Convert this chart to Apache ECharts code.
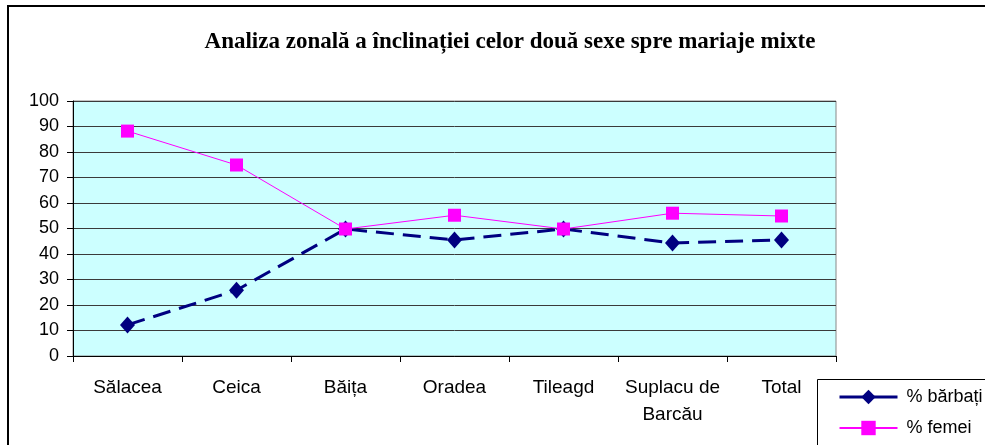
<!DOCTYPE html>
<html>
<head>
<meta charset="utf-8">
<script src="https://cdn.jsdelivr.net/npm/echarts@6/dist/echarts.min.js"></script>
<style>
  html, body { margin: 0; padding: 0; background: #fff; }
  #chart { width: 985px; height: 445px; }
</style>
</head>
<body>
<div id="chart"></div>
<script>
// zones on the x axis
let zones = ['Sălacea', 'Ceica', 'Băița', 'Oradea', 'Tileagd', 'Suplacu de\nBarcău', 'Total'];
// percentages
let barbati = [12.2, 25.8, 49.8, 45.5, 49.8, 44.3, 45.5];
let femei = [88.2, 74.9, 49.8, 55.2, 49.8, 56.0, 54.9];

let chart = echarts.init(document.getElementById('chart'));

let option = {
    animation: false,
    backgroundColor: '#fff',
    title: {
        text: 'Analiza zonală a înclinației celor două sexe spre mariaje mixte',
        left: 505,
        textAlign: 'center',
        top: 26,
        textStyle: {
            fontFamily: 'Liberation Serif',
            fontWeight: 'bold',
            fontSize: 23,
            color: '#000'
        }
    },
    graphic: [
        {
            // outer chart frame, runs past the picture edges
            type: 'rect',
            shape: { x: 8, y: 6, width: 1100, height: 600 },
            style: { fill: 'none', stroke: '#000', lineWidth: 2 },
            z: 0
        },
        {
            // legend box, also cut by the picture edge
            type: 'rect',
            shape: { x: 817.5, y: 379.5, width: 300, height: 200 },
            style: { fill: '#fff', stroke: '#000', lineWidth: 1 },
            z: 1
        }
    ],
    legend: {
        orient: 'vertical',
        left: 838,
        top: 388,
        padding: 0,
        itemWidth: 58,
        itemHeight: 18,
        itemGap: 13,
        z: 5,
        textStyle: { fontFamily: 'Liberation Sans', fontSize: 18, color: '#000', padding: [0, 0, 0, 4] },
        data: [
            { name: '% bărbați', lineStyle: { type: 'solid', width: 3 } },
            { name: '% femei' }
        ]
    },
    grid: {
        left: 73,
        top: 101,
        right: 149,
        bottom: 89,
        show: true,
        backgroundColor: '#ccffff',
        borderColor: '#888',
        borderWidth: 1
    },
    xAxis: {
        type: 'category',
        data: zones,
        boundaryGap: true,
        axisLine: { show: true, lineStyle: { color: '#000', width: 1 } },
        axisTick: { show: true, length: 6, lineStyle: { color: '#000' } },
        axisLabel: {
            fontFamily: 'Liberation Sans',
            fontSize: 19,
            color: '#000',
            margin: 18,
            lineHeight: 27,
            interval: 0
        }
    },
    yAxis: {
        type: 'value',
        min: 0,
        max: 100,
        interval: 10,
        axisLine: { show: true, lineStyle: { color: '#000', width: 1 } },
        axisTick: { show: true, length: 6, lineStyle: { color: '#000' } },
        axisLabel: {
            fontFamily: 'Liberation Sans',
            fontSize: 18,
            color: '#000',
            margin: 14
        },
        splitLine: { show: true, lineStyle: { color: '#3a3a3a', width: 1 } }
    },
    series: [
        {
            name: '% bărbați',
            type: 'line',
            data: barbati,
            symbol: 'diamond',
            symbolSize: [15, 17],
            itemStyle: { color: '#000080' },
            lineStyle: { color: '#000080', width: 3, type: [18, 9] },
            z: 3
        },
        {
            name: '% femei',
            type: 'line',
            data: femei,
            symbol: 'rect',
            symbolSize: 13,
            itemStyle: { color: '#ff00ff' },
            lineStyle: { color: '#ff00ff', width: 1 },
            z: 4
        }
    ]
};

chart.setOption(option);
</script>
</body>
</html>
